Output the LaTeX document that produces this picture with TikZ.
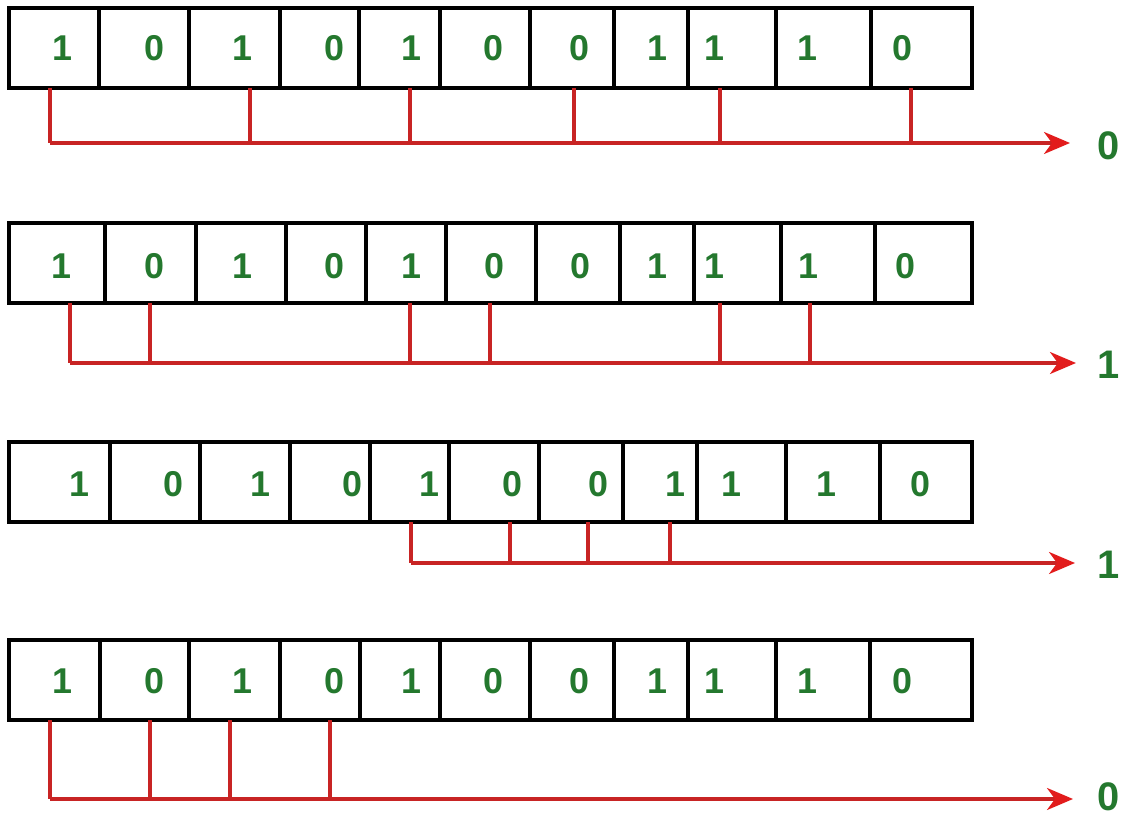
\documentclass[tikz,border=0pt]{standalone}
\usepackage{fontspec}
\setmainfont{Liberation Sans}
\usetikzlibrary{arrows.meta}
\definecolor{bitgreen}{RGB}{36,120,46}
\definecolor{wirered}{RGB}{200,36,36}
\definecolor{headred}{RGB}{226,28,28}
\tikzset{
  cell/.style={draw=black, line width=3.5bp, rectangle, inner sep=0pt, minimum height=80bp},
  bit/.style={text=bitgreen, font=\bfseries\fontsize{36}{38}\selectfont, inner sep=0pt},
  lab/.style={text=bitgreen, font=\bfseries\fontsize{40}{42}\selectfont, inner sep=0pt},
  wire/.style={draw=wirered, line width=3.2bp},
  arrowwire/.style={draw=wirered, line width=3.2bp, -{Stealth[length=26bp,width=22bp,inset=8bp,color=headred]}}
}
\begin{document}
\begin{tikzpicture}[x=1bp,y=-1bp]
\useasboundingbox (0,0) rectangle (1127,819);
\fill[white] (0,0) rectangle (1127,819);

% ---------- Row 1 ----------
\foreach \a/\b/\d/\t [count=\i] in {9/99/1/62, 99/189/0/154, 189/280/1/242, 280/359/0/334, 359/440/1/411, 440/530/0/493, 530/614/0/579, 614/688/1/657, 688/776/1/714, 776/871/1/807, 871/972/0/902}{
  \node[cell, minimum width={(\b-\a)*1bp}] (r1c\i) at ({(\a+\b)/2}, 48) {};
  \node[bit] (r1d\i) at (\t, 48) {\d};
}
\node[lab] (o1) at (1109,146) {0};
\coordinate (r1s) at (50,143);
\coordinate (r1e) at (1070,143);
\foreach \x [count=\k] in {50,250,410,574,720,911}{
  \coordinate (r1u\k) at (\x,88);
  \coordinate (r1v\k) at (\x,143);
  \draw[wire] (r1u\k) -- (r1v\k);
}
\draw[arrowwire] (r1s) -- (r1e);

% ---------- Row 2 ----------
\foreach \a/\b/\d/\t [count=\i] in {9/105/1/61, 105/196/0/154, 196/286/1/242, 286/366/0/334, 366/446/1/411, 446/536/0/494, 536/620/0/580, 620/694/1/657, 694/781/1/714, 781/875/1/808, 875/972/0/905}{
  \node[cell, minimum width={(\b-\a)*1bp}] (r2c\i) at ({(\a+\b)/2}, 263) {};
  \node[bit] (r2d\i) at (\t, 266) {\d};
}
\node[lab] (o2) at (1109,365) {1};
\coordinate (r2s) at (70,363);
\coordinate (r2e) at (1076,363);
\foreach \x [count=\k] in {70,150,410,490,720,810}{
  \coordinate (r2u\k) at (\x,303);
  \coordinate (r2v\k) at (\x,363);
  \draw[wire] (r2u\k) -- (r2v\k);
}
\draw[arrowwire] (r2s) -- (r2e);

% ---------- Row 3 ----------
\foreach \a/\b/\d/\t [count=\i] in {9/110/1/79, 110/200/0/173, 200/290/1/260, 290/370/0/352, 370/449/1/429, 449/539/0/512, 539/623/0/598, 623/697/1/675, 697/786/1/731, 786/880/1/826, 880/972/0/920}{
  \node[cell, minimum width={(\b-\a)*1bp}] (r3c\i) at ({(\a+\b)/2}, 482) {};
  \node[bit] (r3d\i) at (\t, 484) {\d};
}
\node[lab] (o3) at (1109,565) {1};
\coordinate (r3s) at (411,563);
\coordinate (r3e) at (1075,563);
\foreach \x [count=\k] in {411,510,588,670}{
  \coordinate (r3u\k) at (\x,522);
  \coordinate (r3v\k) at (\x,563);
  \draw[wire] (r3u\k) -- (r3v\k);
}
\draw[arrowwire] (r3s) -- (r3e);

% ---------- Row 4 ----------
\foreach \a/\b/\d/\t [count=\i] in {9/100/1/62, 100/189/0/154, 189/280/1/242, 280/360/0/334, 360/440/1/411, 440/530/0/493, 530/614/0/579, 614/688/1/657, 688/776/1/714, 776/870/1/807, 870/972/0/902}{
  \node[cell, minimum width={(\b-\a)*1bp}] (r4c\i) at ({(\a+\b)/2}, 680) {};
  \node[bit] (r4d\i) at (\t, 681) {\d};
}
\node[lab] (o4) at (1109,797) {0};
\coordinate (r4s) at (50,799);
\coordinate (r4e) at (1073,799);
\foreach \x [count=\k] in {50,150,230,330}{
  \coordinate (r4u\k) at (\x,720);
  \coordinate (r4v\k) at (\x,799);
  \draw[wire] (r4u\k) -- (r4v\k);
}
\draw[arrowwire] (r4s) -- (r4e);
\end{tikzpicture}
\end{document}
